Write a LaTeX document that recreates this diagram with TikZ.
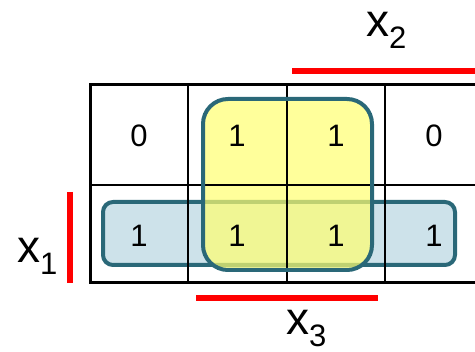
\documentclass[tikz,border=0pt]{standalone}
\usepackage{fontspec}
\setmainfont{Liberation Sans}
\definecolor{bordc}{HTML}{2A6878}
\definecolor{yelc}{HTML}{FFFF70}
\definecolor{bluec}{HTML}{CDE2EA}
\definecolor{redc}{HTML}{FF0000}
\tikzset{
  gridline/.style={line width=2pt, black},
  gridouter/.style={line width=3pt, black},
  redbar/.style={line width=6pt, redc},
  digit/.style={inner sep=0pt, font=\fontsize{31}{31}\selectfont},
  varlabel/.style={inner sep=0pt, anchor=base west, font=\fontsize{46}{46}\selectfont},
  grp/.style={line width=4pt, draw=bordc}
}
\newcommand{\varsub}[1]{x\raisebox{-0.24em}{\fontsize{31}{31}\selectfont #1}}
\begin{document}
\begin{tikzpicture}[x=1pt,y=-1pt]
\useasboundingbox (0,0) rectangle (475,352);
% blue group
\fill[bluec, rounded corners=10pt] (103,202) rectangle (455,265);
\draw[grp, rounded corners=10pt] (103,202) rectangle (455,265);
% yellow group fill (semi-transparent)
\fill[yelc, fill opacity=0.7, rounded corners=25pt] (203,99) rectangle (372,270);
% grid
\draw[gridline] (188,85) -- (188,283);
\draw[gridline] (287,85) -- (287,283);
\draw[gridline] (385,85) -- (385,283);
\draw[gridline] (90,185) -- (480,185);
\draw[gridouter] (480,85) -- (90,85) -- (90,283) -- (480,283);
% yellow border
\draw[grp, rounded corners=25pt] (203,99) rectangle (372,270);
% cell values
\node[digit] (c00) at (139,136) {0};
\node[digit] (c01) at (237,136) {1};
\node[digit] (c02) at (336,136) {1};
\node[digit] (c03) at (434,136) {0};
\node[digit] (c10) at (139,236) {1};
\node[digit] (c11) at (237,236) {1};
\node[digit] (c12) at (336,236) {1};
\node[digit] (c13) at (434,236) {1};
% red bars
\draw[redbar] (292,71) -- (475,71);
\draw[redbar] (70,192) -- (70,283);
\draw[redbar] (196,298) -- (378,298);
% labels
\node[varlabel] (lx2) at (366,37) {\varsub{2}};
\node[varlabel] (lx1) at (17,263) {\varsub{1}};
\node[varlabel] (lx3) at (286,335) {\varsub{3}};
\end{tikzpicture}
\end{document}
